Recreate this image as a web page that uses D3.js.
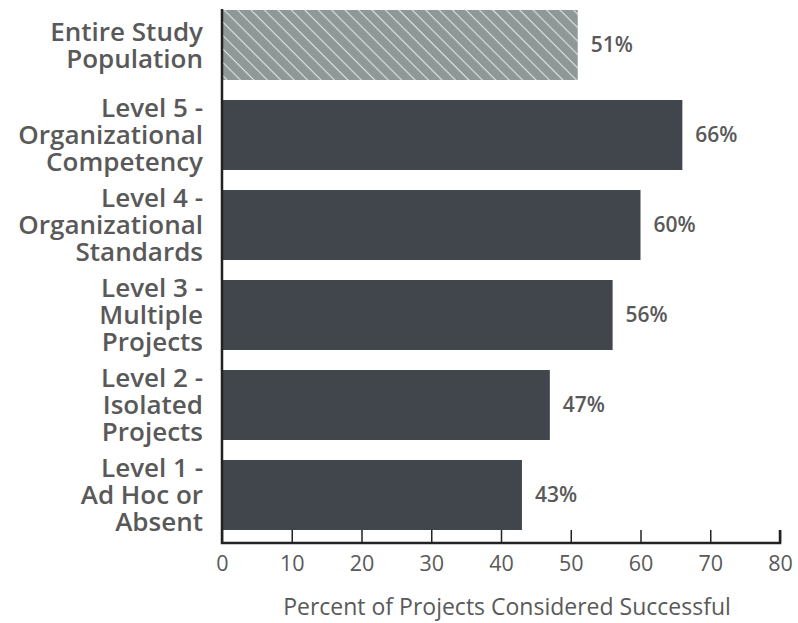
<!DOCTYPE html>
<html>
<head>
<meta charset="utf-8">
<script src="https://cdn.jsdelivr.net/npm/d3@7"></script>
<style>
  html, body { margin: 0; padding: 0; background: #ffffff; }
  svg { display: block; }
</style>
</head>
<body>
<script>
const categories = [
  ["Entire Study", "Population"],
  ["Level 5 -", "Organizational", "Competency"],
  ["Level 4 -", "Organizational", "Standards"],
  ["Level 3 -", "Multiple", "Projects"],
  ["Level 2 -", "Isolated", "Projects"],
  ["Level 1 -", "Ad Hoc or", "Absent"]
];
const values = [51, 66, 60, 56, 47, 43];
const valueLabels = ["51%", "66%", "60%", "56%", "47%", "43%"];
const xTicks = [0, 10, 20, 30, 40, 50, 60, 70, 80];
const xTitle = "Percent of Projects Considered Successful";

const W = 798, H = 623;
const svg = d3.select("body").append("svg").attr("width", W).attr("height", H);

const x = d3.scaleLinear().domain([0, 80]).range([222, 780]);
const y = d3.scaleBand().domain(d3.range(categories.length)).range([0, 540])
  .paddingInner(2 / 9).paddingOuter(1 / 9);

const defs = svg.append("defs");
const pat = defs.append("pattern").attr("id", "hatch").attr("patternUnits", "userSpaceOnUse")
  .attr("width", 9.5).attr("height", 9.5).attr("patternTransform", "rotate(45)");
pat.append("rect").attr("width", 9.5).attr("height", 9.5).attr("fill", "#8e9896");
pat.append("line").attr("x1", 0).attr("y1", 0).attr("x2", 9.5).attr("y2", 0)
  .attr("stroke", "#dfe3e2").attr("stroke-width", 2.2);

const font = "'Open Sans', sans-serif";
const textColor = "#595959";

// bars
svg.selectAll("rect.bar").data(values).enter().append("rect")
  .attr("class", "bar")
  .attr("x", x(0) + 1)
  .attr("y", (d, i) => y(i))
  .attr("width", d => x(d) - x(0) - 1)
  .attr("height", y.bandwidth())
  .attr("fill", (d, i) => i === 0 ? "url(#hatch)" : "#41454c");

// value labels
svg.selectAll("text.val").data(values).enter().append("text")
  .attr("class", "val")
  .attr("x", d => x(d) + 13)
  .attr("y", (d, i) => y(i) + y.bandwidth() / 2)
  .attr("dy", "0.35em")
  .attr("font-family", font).attr("font-size", 21).attr("font-weight", 600)
  .attr("fill", textColor)
  .text((d, i) => valueLabels[i]);

// category labels
const lineH = 27;
categories.forEach((lines, i) => {
  const cy = y(i) + y.bandwidth() / 2;
  const t = svg.append("text")
    .attr("text-anchor", "end")
    .attr("font-family", font).attr("font-size", 26).attr("font-weight", 600)
    .attr("fill", textColor);
  lines.forEach((ln, j) => {
    t.append("tspan").attr("x", 203)
      .attr("y", cy + (j - (lines.length - 1) / 2) * lineH)
      .attr("dy", "0.36em")
      .text(ln);
  });
});

// x axis
const axisY = 543;
const xAxis = d3.axisBottom(x).tickValues(xTicks).tickSize(-13).tickPadding(0).tickFormat(d3.format("d"));
const gx = svg.append("g").attr("transform", `translate(0,${axisY})`).call(xAxis);
gx.select(".domain").remove();
gx.selectAll(".tick line").attr("stroke", "#222").attr("stroke-width", 1.5);
gx.selectAll(".tick text").attr("font-family", font).attr("font-size", 21.5)
  .attr("fill", textColor).attr("y", 20).attr("dy", "0.35em");

svg.append("path")
  .attr("d", `M${x(0)},9 V${axisY} H${x(80)} V${axisY - 13}`)
  .attr("fill", "none").attr("stroke", "#222").attr("stroke-width", 2.5);

svg.append("text")
  .attr("x", (x(0) + x(80)) / 2 + 6).attr("y", 607).attr("dy", "0.35em")
  .attr("text-anchor", "middle")
  .attr("font-family", font).attr("font-size", 23)
  .attr("fill", textColor)
  .text(xTitle);
</script>
</body>
</html>
